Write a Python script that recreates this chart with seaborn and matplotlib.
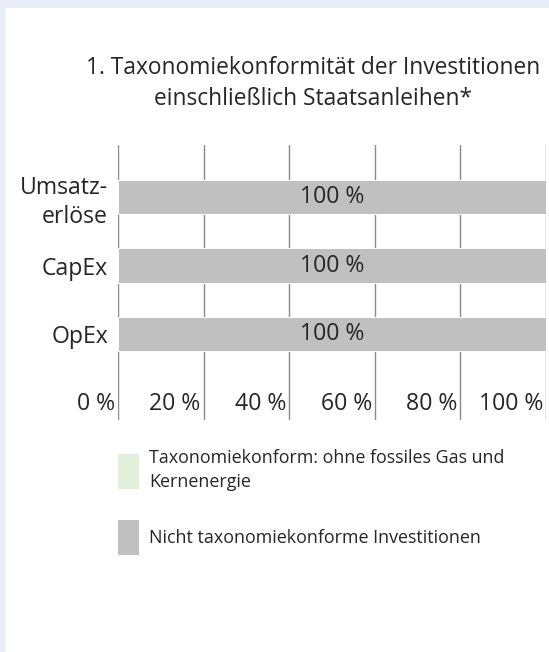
import numpy as np
import pandas as pd
import matplotlib
matplotlib.use("Agg")
import matplotlib.pyplot as plt
from matplotlib.patches import Rectangle, Patch
import seaborn as sns

sns.set_theme(style="white")
plt.rcParams['font.family'] = ['Open Sans', 'DejaVu Sans']
plt.rcParams['text.color'] = '#262626'

# data
categories = ["Umsatz-\nerlöse", "CapEx", "OpEx"]
aligned = [0, 0, 0]            # taxonomiekonform (ohne fossiles Gas und Kernenergie)
not_aligned = [100, 100, 100]  # nicht taxonomiekonform
xticks = [0, 20, 40, 60, 80, 100]
legend_labels = ["Taxonomiekonform: ohne fossiles Gas und\nKernenergie",
                 "Nicht taxonomiekonforme Investitionen"]

green = '#e2efda'
grey = '#c0c0c0'

df = pd.DataFrame({"cat": categories,
                   "aligned": aligned,
                   "total": np.array(aligned) + np.array(not_aligned)})

W, H = 549, 652
fig = plt.figure(figsize=(W / 72, H / 72), dpi=72)
fig.patch.set_facecolor('#e8ecf6')
fig.patches.append(Rectangle((5 / W, 0), 1, (H - 8) / H, transform=fig.transFigure,
                             facecolor='white', edgecolor='none', zorder=-5))

ax = fig.add_axes([118 / W, (H - 420) / H, 428 / W, 275 / H])
ax.set_zorder(2)
ax.set_facecolor('none')

for v in xticks:
    ax.axvline(v, color='#8a8a8a', lw=1.4, zorder=0)

sns.barplot(data=df, x="total", y="cat", orient='h', color=grey, width=0.5,
            saturation=1, ax=ax, zorder=2)
sns.barplot(data=df, x="aligned", y="cat", orient='h', color=green, width=0.5,
            saturation=1, ax=ax, zorder=3)

ax.bar_label(ax.containers[0], labels=[f"{v} %" for v in not_aligned],
             label_type='center', fontsize=23, color='#262626')

ax.set_xlim(0, 100)
ax.set_ylim(3.255, -0.76)
ax.set_xticks([])
ax.tick_params(axis='y', length=0, pad=10, labelsize=23, labelcolor='#262626')
for lab in ax.get_yticklabels():
    lab.set_linespacing(1.3)
ax.set_xlabel("")
ax.set_ylabel("")
for s in ax.spines.values():
    s.set_visible(False)

for v in xticks:
    ax.annotate(f"{v} %", xy=(v, 0.058), xycoords=('data', 'axes fraction'),
                xytext=(-3, 0), textcoords='offset points',
                ha='right', va='center', fontsize=23, color='#262626')

fig.text(313 / W, 1 - 56 / H,
         "1. Taxonomiekonformität der Investitionen\neinschließlich Staatsanleihen*",
         ha='center', va='top', fontsize=22.8, linespacing=1.4, color='#262626')

handles = [Patch(facecolor=green, edgecolor='none'),
           Patch(facecolor=grey, edgecolor='none')]
leg = fig.legend(handles, legend_labels, loc='upper left',
                 bbox_to_anchor=(118 / W, 1 - 449 / H), frameon=False,
                 fontsize=17.9, handlelength=1.17, handleheight=2.6,
                 handletextpad=0.55, labelspacing=1.6, borderpad=0, borderaxespad=0)
for t in leg.get_texts():
    t.set_linespacing(1.45)

fig.savefig("out.png", dpi=72)
